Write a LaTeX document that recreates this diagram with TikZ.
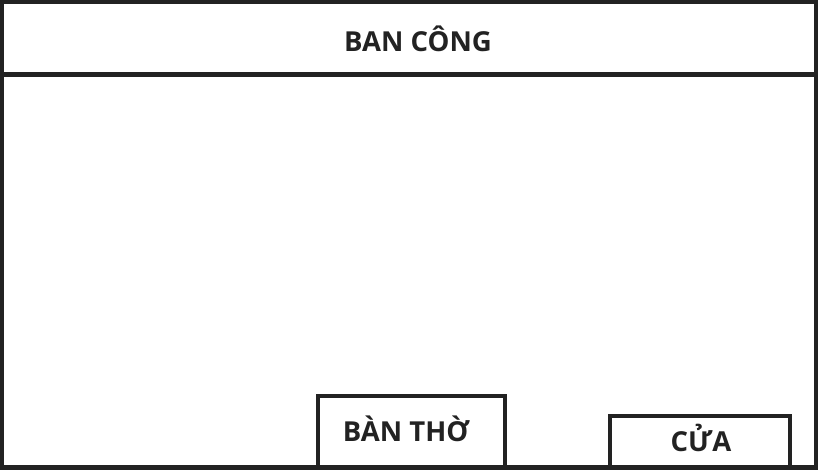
\documentclass[tikz,border=0pt]{standalone}
\usepackage{fontspec}
\setmainfont{Open Sans}
\definecolor{ink}{HTML}{222222}
\begin{document}
\begin{tikzpicture}[x=1pt,y=-1pt,
  wall/.style={draw=ink,line width=4.5pt},
  lbl/.style={text=ink,font=\fontsize{27.5}{30}\selectfont\bfseries,inner sep=0pt,anchor=base}]
\useasboundingbox (0,0) rectangle (820,470);
\fill[white] (0,0) rectangle (820,470);
\draw[wall] (2.2,2.2) rectangle (816,467.5);
\draw[wall] (2.2,74.5) -- (816,74.5);
\draw[wall] (318,467.5) |- (505,396) -- (505,467.5);
\draw[wall] (610,467.5) |- (790,416) -- (790,467.5);
\node[lbl] (bc) at (418,52) {BAN CÔNG};
\node[lbl] (bt) at (406,442) {BÀN THỜ};
\node[lbl] (cua) at (701,451) {CỬA};
\end{tikzpicture}
\end{document}
